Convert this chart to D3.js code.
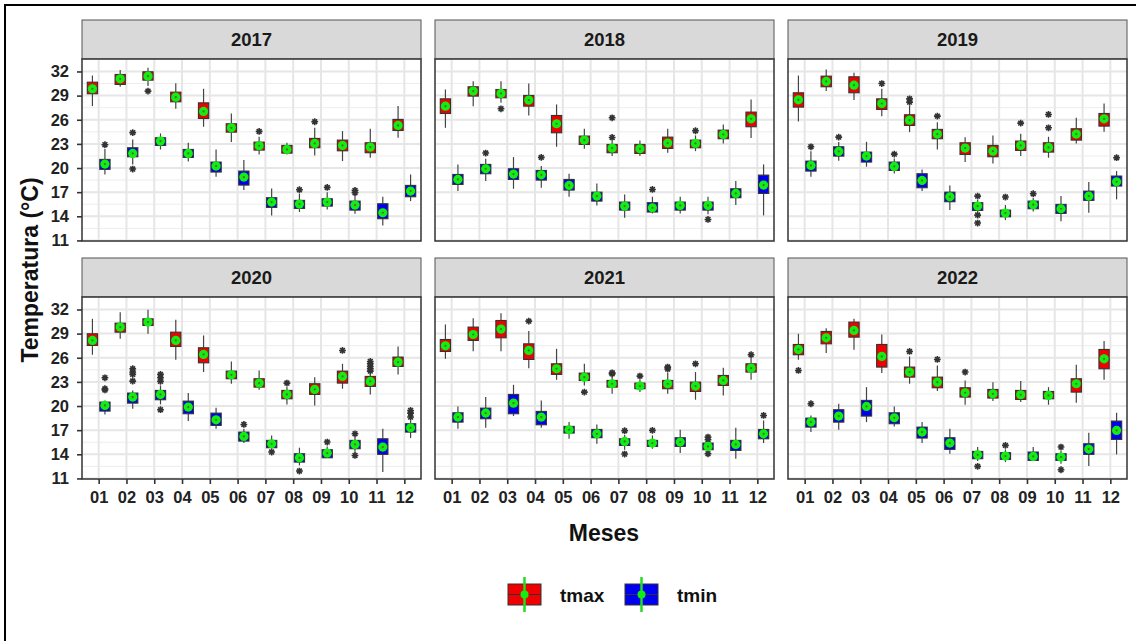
<!DOCTYPE html>
<html><head><meta charset="utf-8">
<script src="https://cdn.jsdelivr.net/npm/d3@7"></script>
<style>body{margin:0;background:#fff}svg{display:block}text{font-family:Arial,"Liberation Sans",sans-serif;font-weight:bold}</style>
</head><body><svg id="c" width="1136" height="641"></svg>
<script>
const years = ["2017","2018","2019","2020","2021","2022"];
const months = ["01","02","03","04","05","06","07","08","09","10","11","12"];
const yTicks = [11,14,17,20,23,26,29,32];
const seriesNames = ["tmax","tmin"];
const seriesColors = ["#f00000","#0000f0"];
// each row: [lower whisker, q1, median, q3, upper whisker, mean]
const tmax2017 = [[27.7,29.23,29.85,30.67,31.5,29.85],[30.1,30.39,31.09,31.63,32.17,31.09],[30.2,30.92,31.42,31.96,32.45,31.42],[27.36,28.23,28.81,29.43,30.55,28.81],[25.13,26.16,27.0,28.1,29.85,27.03],[23.22,24.46,25.0,25.5,26.78,25.0],[21.69,22.23,22.77,23.22,23.88,22.77],[21.69,21.85,22.31,22.81,23.14,22.31],[21.57,22.52,23.06,23.68,25.0,23.06],[20.86,22.14,22.81,23.47,24.59,22.81],[21.28,21.9,22.6,23.14,24.88,22.6],[23.76,24.67,25.29,26.04,27.7,25.29]];
const tmin2017 = [[19.2,19.83,20.49,21.07,22.4,20.49],[20.45,21.4,21.81,22.52,23.55,21.81],[22.3,22.81,23.35,23.76,24.3,23.35],[20.82,21.32,21.81,22.31,23.14,21.81],[18.9,19.5,20.24,20.74,22.3,20.24],[17.26,17.88,18.87,19.62,20.99,18.87],[14.11,15.11,15.77,16.31,17.47,15.77],[14.53,14.98,15.52,15.98,16.8,15.52],[14.86,15.27,15.77,16.18,17.0,15.77],[14.32,14.77,15.4,15.89,16.6,15.4],[12.87,13.7,14.44,15.56,16.43,14.44],[15.89,16.43,17.13,17.84,19.2,17.13]];
const tmax2018 = [[25.0,26.78,27.69,28.6,29.76,27.69],[27.69,28.94,29.56,30.1,30.8,29.56],[28.1,28.73,29.27,29.76,30.8,29.27],[26.53,27.69,28.44,29.02,30.5,28.44],[22.64,24.38,25.5,26.53,27.9,25.5],[22.4,22.93,23.47,23.97,24.88,23.47],[21.48,21.9,22.48,22.93,23.35,22.48],[21.48,21.81,22.39,22.93,23.43,22.39],[21.9,22.43,23.1,23.84,24.88,23.1],[22.1,22.52,23.06,23.47,24.05,23.06],[23.06,23.64,24.17,24.71,25.42,24.17],[23.72,25.13,26.12,26.95,28.52,26.12]];
const tmin2018 = [[17.13,17.96,18.58,19.2,20.45,18.58],[18.38,19.29,19.91,20.45,21.15,19.91],[17.42,18.58,19.25,19.91,21.36,19.25],[17.55,18.5,19.16,19.7,20.24,19.16],[16.43,17.26,17.84,18.58,19.29,17.84],[15.35,15.89,16.51,17.0,18.09,16.51],[13.82,14.77,15.27,15.77,16.72,15.27],[14.36,14.53,15.06,15.69,16.43,15.06],[14.36,14.77,15.35,15.77,16.43,15.35],[14.24,14.77,15.35,15.77,16.43,15.35],[15.4,16.31,16.84,17.42,18.38,16.84],[14.11,16.84,17.88,19.12,20.45,17.88]];
const tmax2019 = [[25.79,27.57,28.48,29.35,31.5,28.48],[29.56,30.1,30.76,31.42,32.25,30.76],[28.44,29.35,30.3,31.34,31.83,30.3],[26.45,27.28,28.02,28.6,29.85,28.02],[24.46,25.29,25.95,26.62,27.78,25.95],[22.31,23.64,24.22,24.8,25.7,24.22],[20.74,21.69,22.48,23.14,23.84,22.48],[20.57,21.4,22.1,22.81,24.05,22.1],[21.48,22.19,22.81,23.35,24.26,22.81],[21.28,21.98,22.56,23.14,23.88,22.56],[23.06,23.47,24.22,24.88,26.24,24.22],[24.5,25.21,26.12,26.78,28.02,26.12]];
const tmin2019 = [[18.92,19.62,20.32,20.86,22.1,20.32],[20.9,21.48,22.06,22.64,23.22,22.06],[20.16,20.74,21.48,21.98,23.26,21.48],[19.33,19.7,20.2,20.74,21.19,20.2],[17.13,17.55,18.46,19.29,19.83,18.46],[14.77,15.81,16.43,17.0,17.84,16.43],[14.53,14.73,15.27,15.69,16.02,15.27],[13.53,13.94,14.4,14.77,15.4,14.4],[14.61,14.94,15.44,15.89,16.27,15.44],[13.4,14.36,14.94,15.48,16.51,14.94],[14.44,15.98,16.51,17.13,18.25,16.51],[16.1,17.76,18.29,19.0,19.62,18.29]];
const tmax2020 = [[26.37,27.53,28.15,28.98,30.84,28.15],[28.36,29.18,29.81,30.3,31.67,29.81],[28.98,30.01,30.43,30.84,31.96,30.43],[25.75,27.4,28.15,29.18,30.72,28.15],[24.22,25.37,26.41,27.24,28.77,26.41],[22.77,23.39,23.88,24.34,25.54,23.88],[22.02,22.35,22.85,23.39,24.42,22.85],[20.2,20.9,21.44,21.94,22.35,21.44],[20.07,21.44,22.06,22.77,23.59,22.06],[22.15,22.85,23.68,24.34,25.25,23.68],[21.44,22.44,23.06,23.68,24.01,23.06],[23.93,24.92,25.46,26.08,27.4,25.46]];
const tmin2020 = [[18.96,19.37,20.07,20.49,20.7,20.07],[19.66,20.36,21.11,21.61,21.94,21.11],[20.2,20.78,21.44,21.94,22.56,21.44],[18.13,19.04,19.87,20.61,21.61,19.87],[17.18,17.59,18.29,19.12,19.79,18.29],[15.4,15.64,16.22,16.76,17.18,16.22],[14.69,14.82,15.31,15.73,16.35,15.31],[12.62,13.03,13.57,14.07,14.82,13.57],[13.57,13.57,14.15,14.57,14.98,14.15],[14.28,14.69,15.23,15.73,16.14,15.23],[11.79,13.99,14.9,15.93,17.18,14.9],[16.02,16.76,17.3,17.8,18.21,17.3]];
const tmax2021 = [[25.87,26.78,27.49,28.27,30.14,27.49],[26.82,28.15,28.89,29.81,30.92,28.89],[26.82,28.48,29.56,30.63,31.54,29.56],[24.71,25.79,26.91,27.73,29.31,26.91],[23.26,23.93,24.63,25.25,27.11,24.63],[22.56,23.18,23.59,24.09,25.25,23.59],[21.52,22.35,22.77,23.18,23.68,22.77],[21.73,22.15,22.48,22.85,23.26,22.48],[21.52,22.15,22.77,23.18,24.09,22.77],[20.78,21.81,22.48,22.97,24.22,22.48],[21.32,22.56,23.18,23.8,24.75,23.18],[23.26,24.22,24.71,25.25,25.95,24.71]];
const tmin2021 = [[17.18,18.0,18.63,19.16,19.95,18.63],[17.3,18.42,19.12,19.74,21.11,19.12],[18.75,19.04,20.36,21.44,22.64,20.36],[17.3,17.67,18.63,19.33,20.7,18.63],[15.93,16.64,17.05,17.47,18.0,17.05],[15.31,16.06,16.55,17.09,17.71,16.55],[14.57,15.1,15.6,15.93,16.43,15.6],[14.69,14.98,15.4,15.73,16.35,15.4],[14.15,14.98,15.52,16.06,17.05,15.52],[14.36,14.57,14.98,15.4,15.64,14.98],[13.45,14.48,15.23,15.73,17.3,15.23],[15.4,15.93,16.55,17.09,18.21,16.55]];
const tmax2022 = [[25.75,26.37,27.03,27.65,28.98,27.03],[26.58,27.73,28.48,29.27,29.68,28.48],[26.99,28.56,29.39,30.43,30.84,29.39],[24.09,24.84,26.16,27.65,28.89,26.16],[22.77,23.59,24.22,24.84,26.16,24.22],[21.86,22.27,22.97,23.59,25.04,22.97],[20.16,21.11,21.65,22.27,23.18,21.65],[20.61,20.99,21.52,22.06,22.97,21.52],[20.49,20.82,21.4,21.94,23.1,21.4],[20.16,20.9,21.32,21.81,22.35,21.32],[20.41,21.73,22.77,23.39,25.13,22.77],[23.26,24.63,25.87,27.03,28.07,25.87]];
const tmin2022 = [[16.76,17.38,18.0,18.5,18.83,18.0],[17.05,18.0,18.75,19.54,20.28,18.75],[18.0,18.75,19.95,20.7,22.35,19.95],[17.47,17.8,18.54,19.16,19.95,18.54],[15.4,16.02,16.76,17.38,18.0,16.76],[14.07,14.61,15.4,16.06,17.18,15.4],[13.16,13.45,13.94,14.36,14.9,13.94],[13.03,13.37,13.78,14.2,14.61,13.78],[13.16,13.24,13.74,14.28,14.9,13.74],[12.83,13.24,13.66,14.07,14.4,13.66],[12.54,13.99,14.65,15.31,16.68,14.65],[13.99,15.85,16.97,18.13,19.16,16.97]];
// outliers: [month, series, value]
const out2017 = [["03","tmax",29.56],["01","tmin",22.9],["02","tmin",24.4],["02","tmin",19.87],["07","tmax",24.55],["08","tmin",17.3],["09","tmax",25.75],["09","tmin",17.59],["10","tmin",17.22],["10","tmin",16.93]];
const out2018 = [["03","tmax",27.36],["02","tmin",21.86],["04","tmin",21.32],["07","tmax",26.24],["07","tmax",23.8],["08","tmin",17.34],["10","tmax",24.63],["10","tmin",13.61]];
const out2019 = [["01","tmin",22.64],["02","tmin",23.84],["04","tmax",30.5],["04","tmin",21.73],["05","tmax",28.6],["05","tmax",28.19],["06","tmax",26.45],["07","tmin",16.51],["07","tmin",14.15],["07","tmin",13.16],["08","tmin",16.39],["09","tmax",25.58],["09","tmin",16.8],["10","tmax",26.66],["10","tmax",25.0],["12","tmin",21.28]];
const out2020 = [["01","tmin",23.51],["01","tmin",22.15],["01","tmin",22.0],["02","tmin",24.63],["02","tmin",24.22],["02","tmin",23.93],["02","tmin",23.1],["03","tmin",23.93],["03","tmin",23.51],["03","tmin",23.06],["03","tmin",19.54],["06","tmin",17.71],["07","tmin",14.28],["08","tmax",22.85],["08","tmin",11.92],["09","tmin",15.52],["10","tmax",26.91],["10","tmin",16.55],["10","tmin",13.86],["11","tmax",25.54],["11","tmax",25.25],["11","tmax",24.92],["11","tmax",24.63],["11","tmax",24.34],["12","tmin",19.45],["12","tmin",19.12],["12","tmin",18.63]];
const out2021 = [["04","tmax",30.55],["06","tmax",21.73],["07","tmax",24.13],["07","tmax",24.0],["07","tmin",16.93],["07","tmin",14.03],["08","tmax",23.72],["08","tmin",16.97],["09","tmax",24.84],["09","tmax",24.6],["10","tmax",25.25],["10","tmin",16.14],["10","tmin",15.81],["10","tmin",14.07],["12","tmax",26.37],["12","tmin",18.83]];
const out2022 = [["01","tmax",24.42],["01","tmin",20.28],["05","tmax",26.78],["06","tmax",25.79],["07","tmax",24.22],["07","tmin",12.5],["08","tmin",15.11],["10","tmin",14.9],["10","tmin",12.08]];

const stats = {
  "2017": {tmax: tmax2017, tmin: tmin2017, out: out2017},
  "2018": {tmax: tmax2018, tmin: tmin2018, out: out2018},
  "2019": {tmax: tmax2019, tmin: tmin2019, out: out2019},
  "2020": {tmax: tmax2020, tmin: tmin2020, out: out2020},
  "2021": {tmax: tmax2021, tmin: tmin2021, out: out2021},
  "2022": {tmax: tmax2022, tmin: tmin2022, out: out2022}
};

const svg = d3.select("#c");
// outer frame (left & top)
svg.append("line").attr("x1",5).attr("x2",5).attr("y1",4).attr("y2",641).attr("stroke","#000").attr("stroke-width",2);
svg.append("line").attr("x1",4).attr("x2",1136).attr("y1",5).attr("y2",5).attr("stroke","#000").attr("stroke-width",2);

const colX = [82, 435, 788], panelW = 339;
const stripTop = [20, 258], stripH = 39, panelH = 182;
const yDomain = [10.93, 33.55];
const minorTicks = d3.range(12.5, 34, 3);

function asterisk(g, cx, cy) {
  const r = 3.4;
  const p = d3.path();
  for (let a = 0; a < 4; a++) {
    const t = a * Math.PI / 4;
    p.moveTo(cx - r*Math.cos(t), cy - r*Math.sin(t));
    p.lineTo(cx + r*Math.cos(t), cy + r*Math.sin(t));
  }
  g.append("path").attr("d", p.toString()).attr("stroke","#333").attr("stroke-width",1.6).attr("fill","none");
}

years.forEach((yr, k) => {
  const col = k % 3, row = Math.floor(k / 3);
  const left = colX[col], top = stripTop[row] + stripH;
  const g = svg.append("g");
  const x = d3.scalePoint().domain(months).range([left, left + panelW]).padding(0.6);
  const y = d3.scaleLinear().domain(yDomain).range([top + panelH, top]);
  const step = x.step();
  const dodge = step * 0.225, bw = step * 0.37;

  // strip
  g.append("rect").attr("x", left).attr("y", stripTop[row]).attr("width", panelW).attr("height", stripH)
    .attr("fill", "#d9d9d9").attr("stroke", "#555").attr("stroke-width", 1);
  g.append("text").attr("x", left + panelW/2).attr("y", stripTop[row] + stripH/2 + 6.5)
    .attr("text-anchor","middle").attr("font-size", 18.5).attr("fill","#1a1a1a").text(yr);

  // panel bg + grid
  g.append("rect").attr("x", left).attr("y", top).attr("width", panelW).attr("height", panelH).attr("fill","#fff");
  g.selectAll(".mn").data(minorTicks.filter(v => y(v) >= top)).join("line")
    .attr("x1", left).attr("x2", left + panelW).attr("y1", d => y(d)).attr("y2", d => y(d))
    .attr("stroke", "#ededed").attr("stroke-width", 1);
  g.selectAll(".mj").data(yTicks).join("line")
    .attr("x1", left).attr("x2", left + panelW).attr("y1", d => y(d)).attr("y2", d => y(d))
    .attr("stroke", "#e6e6e6").attr("stroke-width", 2);
  g.selectAll(".mv").data(months).join("line")
    .attr("x1", d => x(d)).attr("x2", d => x(d)).attr("y1", top).attr("y2", top + panelH)
    .attr("stroke", "#e6e6e6").attr("stroke-width", 2);

  // boxes
  seriesNames.forEach((s, si) => {
    const arr = stats[yr][s];
    const off = si === 0 ? -dodge : dodge;
    arr.forEach((d, i) => {
      const cx = x(months[i]) + off;
      g.append("line").attr("x1", cx).attr("x2", cx).attr("y1", y(d[0])).attr("y2", y(d[1]))
        .attr("stroke", "#444").attr("stroke-width", 1.2);
      g.append("line").attr("x1", cx).attr("x2", cx).attr("y1", y(d[3])).attr("y2", y(d[4]))
        .attr("stroke", "#444").attr("stroke-width", 1.2);
      g.append("rect").attr("x", cx - bw/2).attr("y", y(d[3])).attr("width", bw).attr("height", y(d[1]) - y(d[3]))
        .attr("fill", seriesColors[si]).attr("stroke", "#333").attr("stroke-width", 1.1);
      g.append("line").attr("x1", cx - bw/2).attr("x2", cx + bw/2).attr("y1", y(d[2])).attr("y2", y(d[2]))
        .attr("stroke", "#333").attr("stroke-width", 1.6);
    });
  });
  // outliers
  stats[yr].out.forEach(o => {
    const off = o[1] === "tmax" ? -dodge : dodge;
    asterisk(g, x(o[0]) + off, y(o[2]));
  });
  // means
  seriesNames.forEach((s, si) => {
    const off = si === 0 ? -dodge : dodge;
    stats[yr][s].forEach((d, i) => {
      const cx = x(months[i]) + off;
      g.append("circle").attr("cx", cx).attr("cy", y(d[5])).attr("r", 4.6).attr("fill", "#11ee11");
      g.append("circle").attr("cx", cx).attr("cy", y(d[5])).attr("r", 1.1).attr("fill", "#556b2f");
    });
  });

  // panel border
  g.append("rect").attr("x", left).attr("y", top).attr("width", panelW).attr("height", panelH)
    .attr("fill", "none").attr("stroke", "#333").attr("stroke-width", 1.5);

  if (col === 0) {
    const ax = g.append("g").attr("transform", `translate(${left},0)`)
      .call(d3.axisLeft(y).tickValues(yTicks).tickSize(5).tickPadding(8));
    ax.select(".domain").remove();
    ax.selectAll("line").attr("stroke", "#333").attr("stroke-width", 1.6);
    ax.selectAll("text").attr("font-size", 16.5).attr("fill", "#222")
      .style("font-family", 'Arial,"Liberation Sans",sans-serif').style("font-weight", "bold");
  }
  if (row === 1) {
    const ax = g.append("g").attr("transform", `translate(0,${top + panelH})`)
      .call(d3.axisBottom(x).tickSize(5).tickPadding(7));
    ax.select(".domain").remove();
    ax.selectAll("line").attr("stroke", "#333").attr("stroke-width", 1.6);
    ax.selectAll("text").attr("font-size", 16.5).attr("fill", "#222")
      .style("font-family", 'Arial,"Liberation Sans",sans-serif').style("font-weight", "bold");
  }
});

// axis titles
svg.append("text").attr("x", 604).attr("y", 541).attr("text-anchor","middle").attr("font-size", 23).attr("fill","#111").text("Meses");
svg.append("text").attr("transform","translate(38,270) rotate(-90)").attr("text-anchor","middle").attr("font-size", 23).attr("fill","#111").text("Temperatura (°C)");

// legend
const legX = [508, 625], legTextX = [560, 677];
seriesNames.forEach((s, si) => {
  const lx = legX[si], ly = 584, kw = 33, kh = 21;
  svg.append("rect").attr("x", lx).attr("y", ly).attr("width", kw).attr("height", kh)
    .attr("fill", seriesColors[si]).attr("stroke", "#333").attr("stroke-width", 1);
  svg.append("line").attr("x1", lx).attr("x2", lx + kw).attr("y1", ly + kh/2).attr("y2", ly + kh/2)
    .attr("stroke", "#333").attr("stroke-width", 1);
  svg.append("line").attr("x1", lx + kw/2).attr("x2", lx + kw/2).attr("y1", 577).attr("y2", 612)
    .attr("stroke", "#22dd22").attr("stroke-width", 2.5);
  svg.append("circle").attr("cx", lx + kw/2).attr("cy", ly + kh/2).attr("r", 4).attr("fill", "#11ee11");
  svg.append("text").attr("x", legTextX[si]).attr("y", 601.5).attr("font-size", 19).attr("fill","#111").text(s);
});
</script></body></html>
